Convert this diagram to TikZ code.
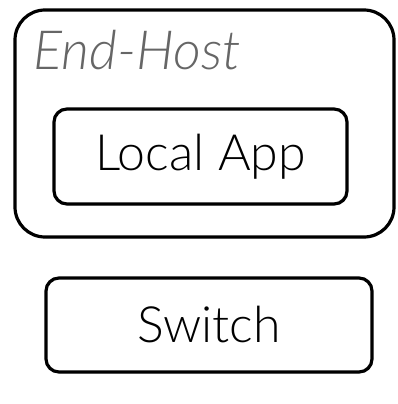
\documentclass[tikz,border=0pt]{standalone}
\usepackage{fontspec}
\IfFontExistsTF{Lato Light}{\setmainfont{Lato Light}[ItalicFont={Lato Light Italic}]}{\setmainfont{Lato}}
\usetikzlibrary{positioning,shadows}

\begin{document}
\begin{tikzpicture}[
  x=1pt,
  y=-1pt,
  box/.style={draw,line width=3.2pt,fill=white,font=\fontsize{50}{56}\selectfont,
    drop shadow={opacity=0.25,shadow xshift=1pt,shadow yshift=-1.5pt}},
  hostbox/.style={box,rounded corners=30pt,minimum width=379pt,minimum height=227pt},
  appbox/.style={box,rounded corners=13pt,minimum width=293pt,minimum height=95pt},
  switchbox/.style={box,rounded corners=13pt,minimum width=326pt,minimum height=94pt},
  hostlabel/.style={font=\fontsize{54}{60}\selectfont\itshape,text=black!60,inner sep=0pt,anchor=base west}
]
\useasboundingbox (0,0) rectangle (397,404);

% end host
\node[hostbox] (host) at (204.5,123.5) {};
\node[hostlabel] (hostname) at (33,70) {End-Host};
\node[appbox] (app) at (200.5,156.5) {Local App};

% switch
\node[switchbox] (switch) at (209,325) {Switch};
\end{tikzpicture}
\end{document}
